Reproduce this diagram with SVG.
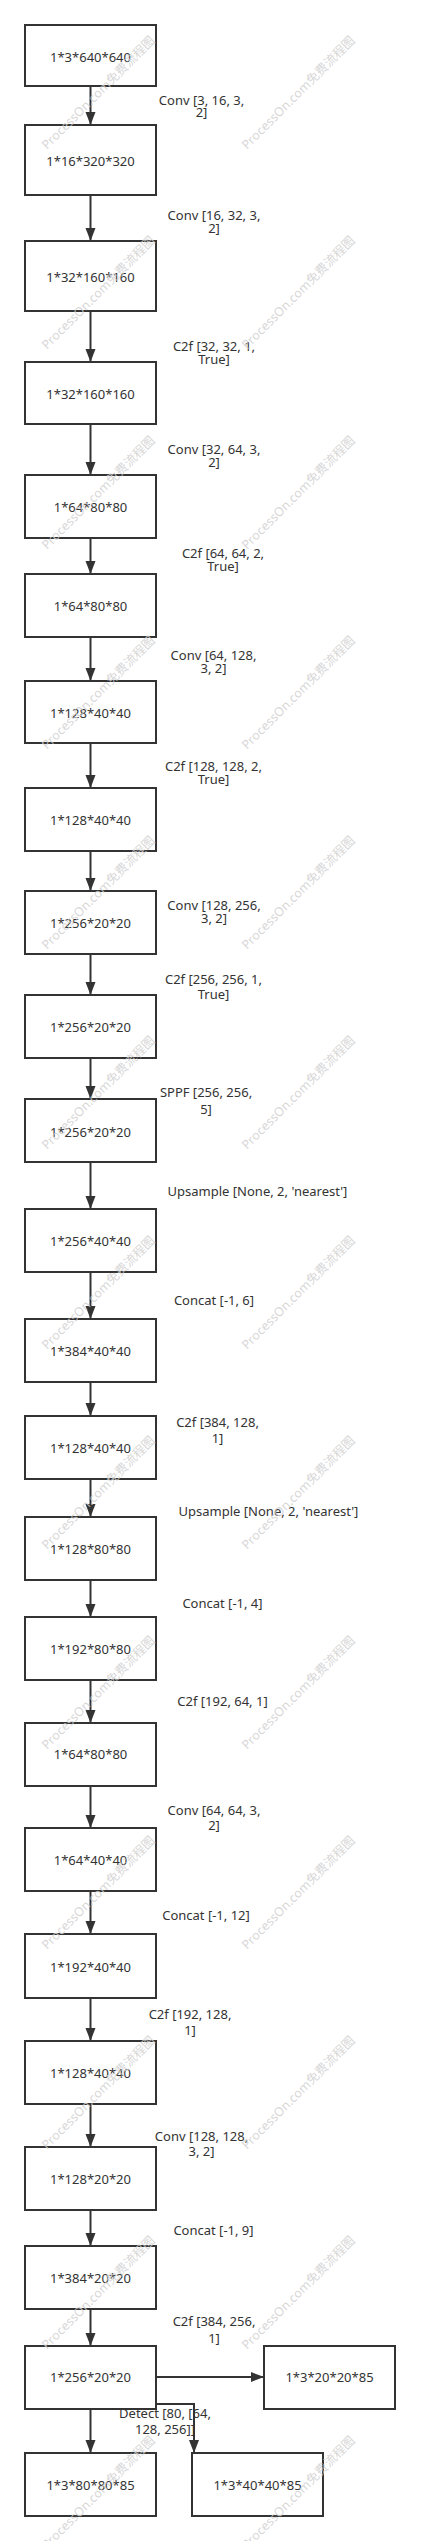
<svg xmlns="http://www.w3.org/2000/svg" width="426" height="2541" viewBox="0 0 426 2541">
<style>
.bg{fill:#ffffff}
.wm{font-family:"Noto Sans","Noto Sans CJK SC",sans-serif;font-size:12.5px;fill:#cfcfcf;fill-opacity:0.85}
.box{fill:#ffffff;stroke:#333333;stroke-width:2}
.nt{font-family:"Noto Sans","Noto Sans CJK SC",sans-serif;font-size:13px;fill:#333333;text-anchor:middle;dominant-baseline:central}
.lb{font-family:"Noto Sans","Noto Sans CJK SC",sans-serif;font-size:13px;fill:#333333;text-anchor:middle}
.cn{fill:none;stroke:#333333;stroke-width:2}
</style>
<defs>
<marker id="ah" markerUnits="userSpaceOnUse" markerWidth="14" markerHeight="11" refX="13" refY="5" orient="auto">
<path d="M0,0 L13,5 L0,10 z" fill="#333333"/>
</marker>
</defs>
<rect class="bg" x="0" y="0" width="426" height="2541"/>
<g id="connectors">
<line class="cn" x1="90.5" y1="86" x2="90.5" y2="125" marker-end="url(#ah)"/>
<line class="cn" x1="90.5" y1="195" x2="90.5" y2="241" marker-end="url(#ah)"/>
<line class="cn" x1="90.5" y1="311" x2="90.5" y2="362" marker-end="url(#ah)"/>
<line class="cn" x1="90.5" y1="424" x2="90.5" y2="475" marker-end="url(#ah)"/>
<line class="cn" x1="90.5" y1="538" x2="90.5" y2="574" marker-end="url(#ah)"/>
<line class="cn" x1="90.5" y1="637" x2="90.5" y2="681" marker-end="url(#ah)"/>
<line class="cn" x1="90.5" y1="743" x2="90.5" y2="788" marker-end="url(#ah)"/>
<line class="cn" x1="90.5" y1="851" x2="90.5" y2="891" marker-end="url(#ah)"/>
<line class="cn" x1="90.5" y1="954" x2="90.5" y2="995" marker-end="url(#ah)"/>
<line class="cn" x1="90.5" y1="1058" x2="90.5" y2="1099" marker-end="url(#ah)"/>
<line class="cn" x1="90.5" y1="1162" x2="90.5" y2="1209" marker-end="url(#ah)"/>
<line class="cn" x1="90.5" y1="1272" x2="90.5" y2="1319" marker-end="url(#ah)"/>
<line class="cn" x1="90.5" y1="1382" x2="90.5" y2="1416" marker-end="url(#ah)"/>
<line class="cn" x1="90.5" y1="1479" x2="90.5" y2="1517" marker-end="url(#ah)"/>
<line class="cn" x1="90.5" y1="1580" x2="90.5" y2="1617" marker-end="url(#ah)"/>
<line class="cn" x1="90.5" y1="1680" x2="90.5" y2="1723" marker-end="url(#ah)"/>
<line class="cn" x1="90.5" y1="1786" x2="90.5" y2="1828" marker-end="url(#ah)"/>
<line class="cn" x1="90.5" y1="1891" x2="90.5" y2="1934" marker-end="url(#ah)"/>
<line class="cn" x1="90.5" y1="1998" x2="90.5" y2="2041" marker-end="url(#ah)"/>
<line class="cn" x1="90.5" y1="2104" x2="90.5" y2="2147" marker-end="url(#ah)"/>
<line class="cn" x1="90.5" y1="2210" x2="90.5" y2="2246" marker-end="url(#ah)"/>
<line class="cn" x1="90.5" y1="2309" x2="90.5" y2="2346" marker-end="url(#ah)"/>
<line class="cn" x1="156" y1="2377" x2="264" y2="2377" marker-end="url(#ah)"/>
<line class="cn" x1="90.5" y1="2409" x2="90.5" y2="2453" marker-end="url(#ah)"/>
<path class="cn" d="M156,2404 H194 V2453" marker-end="url(#ah)"/>
<text class="lb" x="201.5" y="104.5">Conv [3, 16, 3,<tspan x="201.5" dy="12">2]</tspan></text>
<text class="lb" x="214" y="219.5">Conv [16, 32, 3,<tspan x="214" dy="13">2]</tspan></text>
<text class="lb" x="214" y="351">C2f [32, 32, 1,<tspan x="214" dy="12.5">True]</tspan></text>
<text class="lb" x="214" y="454">Conv [32, 64, 3,<tspan x="214" dy="13">2]</tspan></text>
<text class="lb" x="223" y="558">C2f [64, 64, 2,<tspan x="223" dy="12.5">True]</tspan></text>
<text class="lb" x="213.5" y="659.5">Conv [64, 128,<tspan x="213.5" dy="13">3, 2]</tspan></text>
<text class="lb" x="213.5" y="771">C2f [128, 128, 2,<tspan x="213.5" dy="12.5">True]</tspan></text>
<text class="lb" x="214" y="910">Conv [128, 256,<tspan x="214" dy="13">3, 2]</tspan></text>
<text class="lb" x="213.5" y="983.5">C2f [256, 256, 1,<tspan x="213.5" dy="15">True]</tspan></text>
<text class="lb" x="206" y="1097">SPPF [256, 256,<tspan x="206" dy="16.5">5]</tspan></text>
<text class="lb" x="257.5" y="1196">Upsample [None, 2, 'nearest']</text>
<text class="lb" x="214" y="1304.5">Concat [-1, 6]</text>
<text class="lb" x="217.5" y="1427">C2f [384, 128,<tspan x="217.5" dy="15.5">1]</tspan></text>
<text class="lb" x="268.5" y="1516">Upsample [None, 2, 'nearest']</text>
<text class="lb" x="222.5" y="1608">Concat [-1, 4]</text>
<text class="lb" x="222.5" y="1706">C2f [192, 64, 1]</text>
<text class="lb" x="214" y="1814.5">Conv [64, 64, 3,<tspan x="214" dy="15">2]</tspan></text>
<text class="lb" x="206" y="1919.5">Concat [-1, 12]</text>
<text class="lb" x="190" y="2018.5">C2f [192, 128,<tspan x="190" dy="16.5">1]</tspan></text>
<text class="lb" x="201.5" y="2140.5">Conv [128, 128,<tspan x="201.5" dy="15.5">3, 2]</tspan></text>
<text class="lb" x="213.5" y="2235">Concat [-1, 9]</text>
<text class="lb" x="214" y="2325.5">C2f [384, 256,<tspan x="214" dy="17">1]</tspan></text>
<text class="lb" x="165" y="2418">Detect [80, [64,<tspan x="165" dy="16">128, 256]]</tspan></text>
</g>
<g id="n1"><rect class="box" x="25" y="25" width="131" height="61"/><text class="nt" x="90.5" y="57">1*3*640*640</text></g>
<g id="n2"><rect class="box" x="25" y="125" width="131" height="70"/><text class="nt" x="90.5" y="161">1*16*320*320</text></g>
<g id="n3"><rect class="box" x="25" y="241" width="131" height="70"/><text class="nt" x="90.5" y="277">1*32*160*160</text></g>
<g id="n4"><rect class="box" x="25" y="362" width="131" height="62"/><text class="nt" x="90.5" y="394">1*32*160*160</text></g>
<g id="n5"><rect class="box" x="25" y="475" width="131" height="63"/><text class="nt" x="90.5" y="507">1*64*80*80</text></g>
<g id="n6"><rect class="box" x="25" y="574" width="131" height="63"/><text class="nt" x="90.5" y="606">1*64*80*80</text></g>
<g id="n7"><rect class="box" x="25" y="681" width="131" height="62"/><text class="nt" x="90.5" y="713">1*128*40*40</text></g>
<g id="n8"><rect class="box" x="25" y="788" width="131" height="63"/><text class="nt" x="90.5" y="820">1*128*40*40</text></g>
<g id="n9"><rect class="box" x="25" y="891" width="131" height="63"/><text class="nt" x="90.5" y="923">1*256*20*20</text></g>
<g id="n10"><rect class="box" x="25" y="995" width="131" height="63"/><text class="nt" x="90.5" y="1027">1*256*20*20</text></g>
<g id="n11"><rect class="box" x="25" y="1099" width="131" height="63"/><text class="nt" x="90.5" y="1132">1*256*20*20</text></g>
<g id="n12"><rect class="box" x="25" y="1209" width="131" height="63"/><text class="nt" x="90.5" y="1241">1*256*40*40</text></g>
<g id="n13"><rect class="box" x="25" y="1319" width="131" height="63"/><text class="nt" x="90.5" y="1351">1*384*40*40</text></g>
<g id="n14"><rect class="box" x="25" y="1416" width="131" height="63"/><text class="nt" x="90.5" y="1448">1*128*40*40</text></g>
<g id="n15"><rect class="box" x="25" y="1517" width="131" height="63"/><text class="nt" x="90.5" y="1549">1*128*80*80</text></g>
<g id="n16"><rect class="box" x="25" y="1617" width="131" height="63"/><text class="nt" x="90.5" y="1649">1*192*80*80</text></g>
<g id="n17"><rect class="box" x="25" y="1723" width="131" height="63"/><text class="nt" x="90.5" y="1754">1*64*80*80</text></g>
<g id="n18"><rect class="box" x="25" y="1828" width="131" height="63"/><text class="nt" x="90.5" y="1860">1*64*40*40</text></g>
<g id="n19"><rect class="box" x="25" y="1934" width="131" height="64"/><text class="nt" x="90.5" y="1967">1*192*40*40</text></g>
<g id="n20"><rect class="box" x="25" y="2041" width="131" height="63"/><text class="nt" x="90.5" y="2073">1*128*40*40</text></g>
<g id="n21"><rect class="box" x="25" y="2147" width="131" height="63"/><text class="nt" x="90.5" y="2179">1*128*20*20</text></g>
<g id="n22"><rect class="box" x="25" y="2246" width="131" height="63"/><text class="nt" x="90.5" y="2278">1*384*20*20</text></g>
<g id="n23"><rect class="box" x="25" y="2346" width="131" height="63"/><text class="nt" x="90.5" y="2377">1*256*20*20</text></g>
<g id="n24"><rect class="box" x="264" y="2346" width="131" height="63"/><text class="nt" x="329.5" y="2377">1*3*20*20*85</text></g>
<g id="n25"><rect class="box" x="25" y="2453" width="131" height="63"/><text class="nt" x="90.5" y="2485">1*3*80*80*85</text></g>
<g id="n26"><rect class="box" x="192" y="2453" width="131" height="63"/><text class="nt" x="257.5" y="2485">1*3*40*40*85</text></g>
<g id="watermarks">
<text class="wm" transform="translate(47,150) rotate(-45)">ProcessOn.com免费流程图</text>
<text class="wm" transform="translate(247,150) rotate(-45)">ProcessOn.com免费流程图</text>
<text class="wm" transform="translate(47,350) rotate(-45)">ProcessOn.com免费流程图</text>
<text class="wm" transform="translate(247,350) rotate(-45)">ProcessOn.com免费流程图</text>
<text class="wm" transform="translate(47,550) rotate(-45)">ProcessOn.com免费流程图</text>
<text class="wm" transform="translate(247,550) rotate(-45)">ProcessOn.com免费流程图</text>
<text class="wm" transform="translate(47,750) rotate(-45)">ProcessOn.com免费流程图</text>
<text class="wm" transform="translate(247,750) rotate(-45)">ProcessOn.com免费流程图</text>
<text class="wm" transform="translate(47,950) rotate(-45)">ProcessOn.com免费流程图</text>
<text class="wm" transform="translate(247,950) rotate(-45)">ProcessOn.com免费流程图</text>
<text class="wm" transform="translate(47,1150) rotate(-45)">ProcessOn.com免费流程图</text>
<text class="wm" transform="translate(247,1150) rotate(-45)">ProcessOn.com免费流程图</text>
<text class="wm" transform="translate(47,1350) rotate(-45)">ProcessOn.com免费流程图</text>
<text class="wm" transform="translate(247,1350) rotate(-45)">ProcessOn.com免费流程图</text>
<text class="wm" transform="translate(47,1550) rotate(-45)">ProcessOn.com免费流程图</text>
<text class="wm" transform="translate(247,1550) rotate(-45)">ProcessOn.com免费流程图</text>
<text class="wm" transform="translate(47,1750) rotate(-45)">ProcessOn.com免费流程图</text>
<text class="wm" transform="translate(247,1750) rotate(-45)">ProcessOn.com免费流程图</text>
<text class="wm" transform="translate(47,1950) rotate(-45)">ProcessOn.com免费流程图</text>
<text class="wm" transform="translate(247,1950) rotate(-45)">ProcessOn.com免费流程图</text>
<text class="wm" transform="translate(47,2150) rotate(-45)">ProcessOn.com免费流程图</text>
<text class="wm" transform="translate(247,2150) rotate(-45)">ProcessOn.com免费流程图</text>
<text class="wm" transform="translate(47,2350) rotate(-45)">ProcessOn.com免费流程图</text>
<text class="wm" transform="translate(247,2350) rotate(-45)">ProcessOn.com免费流程图</text>
<text class="wm" transform="translate(47,2550) rotate(-45)">ProcessOn.com免费流程图</text>
<text class="wm" transform="translate(247,2550) rotate(-45)">ProcessOn.com免费流程图</text>
</g>
</svg>
